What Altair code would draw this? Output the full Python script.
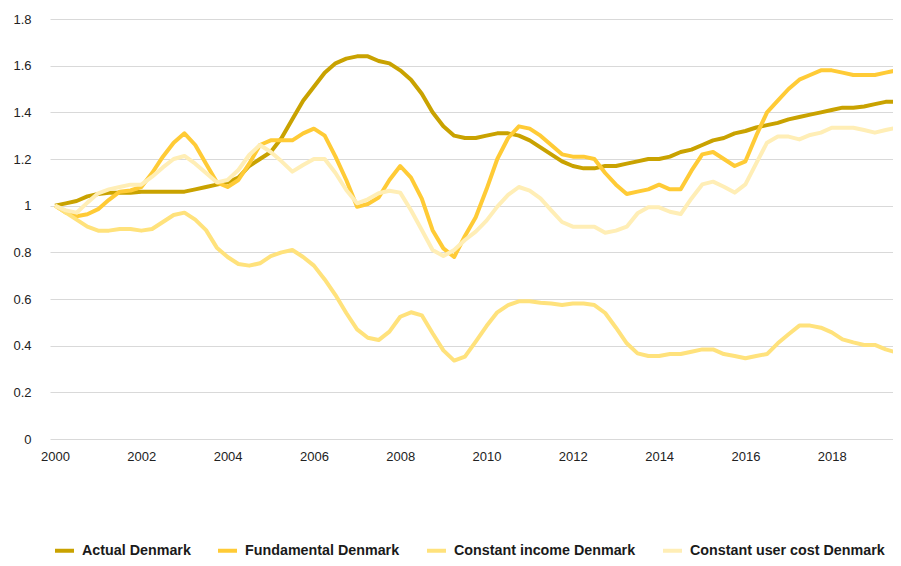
import altair as alt
import pandas as pd

series_names = ["Actual Denmark", "Fundamental Denmark", "Constant income Denmark", "Constant user cost Denmark"]
series_colors = ["#C9A200", "#FFCB36", "#FFE27C", "#FFEEB6"]

quarters = [f"{2000 + k // 4}Q{k % 4 + 1}" for k in range(80)]

actual = [1.00, 1.01, 1.02, 1.04, 1.05, 1.055, 1.055, 1.055, 1.06, 1.06, 1.06, 1.06, 1.06, 1.07, 1.08, 1.09,
          1.10, 1.12, 1.17, 1.20, 1.23, 1.29, 1.37, 1.45, 1.51, 1.57, 1.61, 1.63, 1.64, 1.64, 1.62, 1.61,
          1.58, 1.54, 1.48, 1.40, 1.34, 1.30, 1.29, 1.29, 1.30, 1.31, 1.31, 1.30, 1.28, 1.25, 1.22, 1.19,
          1.17, 1.16, 1.16, 1.17, 1.17, 1.18, 1.19, 1.20, 1.20, 1.21, 1.23, 1.24, 1.26, 1.28, 1.29, 1.31,
          1.32, 1.335, 1.345, 1.355, 1.37, 1.38, 1.39, 1.40, 1.41, 1.42, 1.42, 1.425, 1.435, 1.445, 1.445, 1.45]

fundamental = [1.00, 0.97, 0.955, 0.963, 0.985, 1.025, 1.06, 1.065, 1.08, 1.14, 1.21, 1.27, 1.31, 1.26, 1.18, 1.10,
               1.08, 1.11, 1.18, 1.26, 1.28, 1.28, 1.28, 1.31, 1.33, 1.30, 1.21, 1.11, 0.995, 1.007, 1.035, 1.11,
               1.17, 1.12, 1.03, 0.895, 0.817, 0.78, 0.87, 0.95, 1.07, 1.20, 1.29, 1.34, 1.33, 1.30, 1.26, 1.22,
               1.21, 1.21, 1.20, 1.14, 1.09, 1.05, 1.06, 1.07, 1.09, 1.07, 1.07, 1.15, 1.22, 1.23, 1.20, 1.17,
               1.19, 1.30, 1.40, 1.45, 1.50, 1.54, 1.56, 1.58, 1.58, 1.57, 1.56, 1.56, 1.56, 1.57, 1.58, 1.59]

constant_income = [1.00, 0.97, 0.94, 0.91, 0.893, 0.893, 0.90, 0.90, 0.893, 0.90, 0.93, 0.96, 0.97, 0.94, 0.895, 0.82,
                   0.78, 0.75, 0.743, 0.753, 0.784, 0.80, 0.81, 0.78, 0.743, 0.684, 0.617, 0.54, 0.47, 0.434, 0.424, 0.46,
                   0.524, 0.543, 0.53, 0.453, 0.38, 0.336, 0.353, 0.417, 0.484, 0.543, 0.574, 0.59, 0.59, 0.584, 0.581, 0.574,
                   0.581, 0.581, 0.574, 0.54, 0.477, 0.41, 0.367, 0.356, 0.356, 0.364, 0.364, 0.374, 0.384, 0.384, 0.364, 0.356,
                   0.346, 0.356, 0.364, 0.41, 0.449, 0.486, 0.486, 0.477, 0.457, 0.427, 0.414, 0.403, 0.403, 0.384, 0.371, 0.36]

constant_user_cost = [1.00, 0.98, 0.97, 1.013, 1.053, 1.07, 1.08, 1.09, 1.09, 1.124, 1.164, 1.20, 1.213, 1.18, 1.14, 1.10,
                      1.11, 1.153, 1.217, 1.26, 1.23, 1.19, 1.146, 1.174, 1.20, 1.20, 1.14, 1.067, 1.01, 1.027, 1.053, 1.064,
                      1.056, 0.98, 0.896, 0.81, 0.784, 0.81, 0.853, 0.889, 0.936, 0.996, 1.046, 1.08, 1.064, 1.031, 0.98, 0.93,
                      0.91, 0.91, 0.91, 0.884, 0.893, 0.91, 0.967, 0.993, 0.993, 0.974, 0.964, 1.031, 1.091, 1.103, 1.081, 1.056,
                      1.091, 1.181, 1.27, 1.296, 1.296, 1.284, 1.303, 1.313, 1.334, 1.334, 1.334, 1.324, 1.313, 1.324, 1.334, 1.345]

y_ticks = [0, 0.2, 0.4, 0.6, 0.8, 1.0, 1.2, 1.4, 1.6, 1.8]
x_ticks = [2000, 2002, 2004, 2006, 2008, 2010, 2012, 2014, 2016, 2018]

rows = []
for name, vals in zip(series_names, [actual, fundamental, constant_income, constant_user_cost]):
    for q, v in zip(quarters, vals):
        t = int(q[:4]) + (int(q[-1]) - 1) / 4
        rows.append({"series": name, "quarter": q, "t": t, "value": v})
df = pd.DataFrame(rows)

font = "Liberation Sans"

chart = alt.Chart(df).mark_line(strokeWidth=4, clip=True, strokeJoin="round", strokeCap="butt").encode(
    x=alt.X("t:Q",
            scale=alt.Scale(domain=[1999.884, 2019.42], nice=False, zero=False),
            axis=alt.Axis(values=x_ticks, format="d", title=None, grid=False, domain=False, ticks=False,
                          labelPadding=11, labelFontSize=13, labelColor="#222222", labelFont=font,
                          labelFlush=False, labelOverlap=False)),
    y=alt.Y("value:Q",
            scale=alt.Scale(domain=[0, 1.8], nice=False),
            axis=alt.Axis(values=y_ticks, format=".1~f", title=None, domain=False, ticks=False,
                          grid=True, gridColor="#D9D9D9", gridWidth=1,
                          labelPadding=19, labelFontSize=13, labelColor="#222222", labelFont=font)),
    color=alt.Color("series:N",
                    scale=alt.Scale(domain=series_names, range=series_colors),
                    legend=alt.Legend(title=None, orient="none", legendX=3, legendY=520,
                                      direction="horizontal", symbolType="stroke",
                                      symbolStrokeWidth=4, symbolSize=361,
                                      labelFont=font, labelFontWeight="bold", labelFontSize=14.3,
                                      labelColor="#1a1a1a", columnPadding=19, labelOffset=6,
                                      labelLimit=400, padding=0)),
).properties(
    width=843,
    height=420,
    autosize=alt.AutoSizeParams(type="none"),
    padding={"left": 42, "top": 11, "right": 0, "bottom": 119},
    background="white",
).configure_view(stroke=None)

chart.save("out.html", embed_options={"renderer": "svg", "actions": False})
